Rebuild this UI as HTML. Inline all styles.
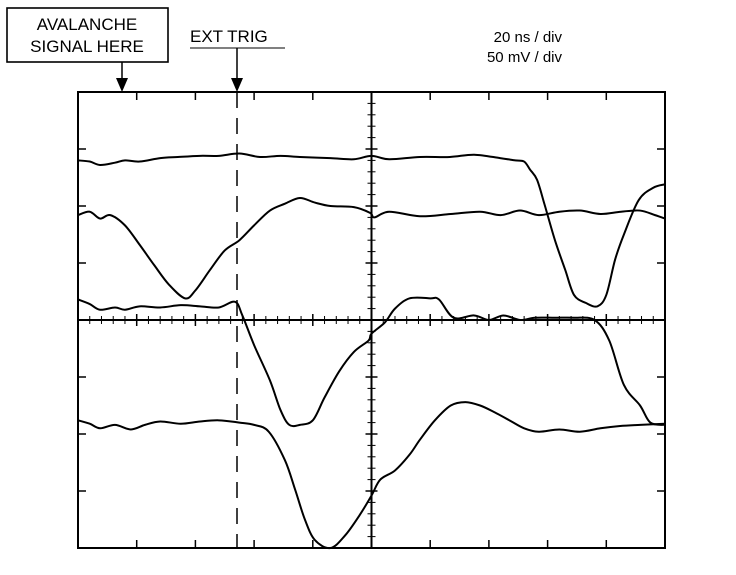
<!DOCTYPE html>
<html><head><meta charset="utf-8"><style>
html,body{margin:0;padding:0;background:#fff;}
svg{display:block;font-family:"Liberation Sans",sans-serif;}
</style></head><body>
<svg id="c" width="736" height="575" viewBox="0 0 736 575">
<g>
<rect x="7" y="8" width="161" height="54" fill="#fff" stroke="#000" stroke-width="1.6"/>
<text x="87" y="30" font-size="17" text-anchor="middle">AVALANCHE</text>
<text x="87" y="52" font-size="17" text-anchor="middle">SIGNAL HERE</text>
<line x1="122" y1="62" x2="122" y2="80" stroke="#000" stroke-width="1.5"/>
<polygon points="116,78 128,78 122,92" fill="#000"/>
<text x="190" y="42" font-size="17">EXT TRIG</text>
<line x1="190" y1="48" x2="285" y2="48" stroke="#000" stroke-width="1"/>
<line x1="237" y1="48" x2="237" y2="80" stroke="#000" stroke-width="1.5"/>
<polygon points="231,78 243,78 237,92" fill="#000"/>
<text x="562" y="42" font-size="15" text-anchor="end">20 ns / div</text>
<text x="562" y="62" font-size="15" text-anchor="end">50 mV / div</text>
</g>
<g id="grid"></g>
<line x1="237" y1="92" x2="237" y2="548" stroke="#000" stroke-width="1.5" stroke-dasharray="16,10"/>
<g id="traces"></g>
</svg>
<script>
const traceA_t=[0,4,7.5,12.6,16,21,28,34,41.6,48,55,62,69,75.6,86,94,100,106,116.5,126.7,135,143.8,149,152,154,156.4,159,162.5,166,169,173,177,180,183,186,191,196,200];
const traceA_mV=[140,139,136,138,140,139,142,143,144,144,146,143,144,143,142,141,144,141,143,143,145,142,140,139,132,123,101,70,44,22,15,12,22,53,75,105,116,119];
const traceB_t=[0,4,7.5,11,16,21,26,31,36.5,40,45,50,55,60,65.4,70.5,75.6,80.7,86,94,99.5,101,106,116.5,127,137,144,150.6,157,164,171,178,185,191.5,196.6,200];
const traceB_mV=[92,95,89,92,83,66,48,31,19,26,44,61,70,83,96,102,107,103,100,99,94,90,95,91,93,95,92,96,92,95,96,93,95,96,92,89];
const traceC_t=[0,4,7.5,12.6,16,21,28,35,41.6,48,53.5,56,60,65.4,69,72,75.6,80,84,89,94,99,100,104.6,108,113,120,123,128,135,140,145,150.6,155.7,162.5,169,176,181,186,191.5,195,200];
const traceC_mV=[18,14,9,11,9,12,11,13,12,11,16,4,-22,-53,-79,-92,-92,-88,-68,-45,-28,-18,-12,-2,10,19,19,18,2,4,0,4,0,2,2,2,0,-18,-57,-75,-90,-92];
const traceD_t=[0,4,7.5,12.6,18,22.8,28,35,41.6,48,55,60,65,70.5,74,77.3,80.7,86,91,96,100,103,108,113,116.5,121.6,127,132,137,142,147,152,157,164,171,178,184.7,191.5,200];
const traceD_mV=[-88,-91,-95,-92,-96,-92,-89,-91,-89,-88,-90,-92,-98,-123,-149,-175,-193,-200,-189,-171,-154,-140,-132,-118,-105,-88,-75,-72,-75,-81,-88,-95,-98,-96,-98,-95,-93,-92,-91];
const NS=document.getElementById('traces'), G=document.getElementById('grid'), SVGNS='http://www.w3.org/2000/svg';
const L=78,R=665,T=92,B=548,CX=(L+R)/2,CY=(T+B)/2;
const xs=t=>L+t*(R-L)/200, ys=v=>CY-v*(B-T)/400;
function ln(x1,y1,x2,y2,w){const e=document.createElementNS(SVGNS,'line');e.setAttribute('x1',x1);e.setAttribute('y1',y1);e.setAttribute('x2',x2);e.setAttribute('y2',y2);e.setAttribute('stroke','#000');e.setAttribute('stroke-width',w);


G.appendChild(e);}
const frame=document.createElementNS(SVGNS,'rect');frame.setAttribute('x',L);frame.setAttribute('y',T);frame.setAttribute('width',R-L);frame.setAttribute('height',B-T);frame.setAttribute('fill','none');frame.setAttribute('stroke','#000');frame.setAttribute('stroke-width','2');


G.appendChild(frame);
ln(L,CY,R,CY,2);ln(CX,T,CX,B,2);
const dx=(R-L)/10, dy=(B-T)/8;
for(let i=1;i<10;i++){const x=L+i*dx;ln(x,T,x,T+8,1.5);ln(x,B,x,B-8,1.5);ln(x,CY-6,x,CY+6,1.5);}
for(let i=1;i<8;i++){const y=T+i*dy;ln(L,y,L+8,y,1.5);ln(R,y,R-8,y,1.5);ln(CX-6,y,CX+6,y,1.5);}
for(let i=1;i<50;i++){if(i%5)ln(L+i*dx/5,CY-4,L+i*dx/5,CY+4,1);}
for(let i=1;i<40;i++){if(i%5)ln(CX-4,T+i*dy/5,CX+4,T+i*dy/5,1);}
function trace(ts,vs,name){const p=document.createElementNS(SVGNS,'path');let d='';
const pts=ts.map((t,i)=>[xs(t),ys(vs[i])]);
d='M'+pts[0][0]+','+pts[0][1];
for(let i=1;i<pts.length;i++){const p0=pts[Math.max(0,i-2)],p1=pts[i-1],p2=pts[i],p3=pts[Math.min(pts.length-1,i+1)];
d+=` C${p1[0]+(p2[0]-p0[0])/6},${p1[1]+(p2[1]-p0[1])/6} ${p2[0]-(p3[0]-p1[0])/6},${p2[1]-(p3[1]-p1[1])/6} ${p2[0]},${p2[1]}`;}
p.setAttribute('d',d);p.setAttribute('fill','none');p.setAttribute('stroke','#000');p.setAttribute('stroke-width','2');


NS.appendChild(p);}
trace(traceA_t,traceA_mV,'trace-a');
trace(traceB_t,traceB_mV,'trace-b');
trace(traceC_t,traceC_mV,'trace-c');
trace(traceD_t,traceD_mV,'trace-d');
</script>
</body></html>
